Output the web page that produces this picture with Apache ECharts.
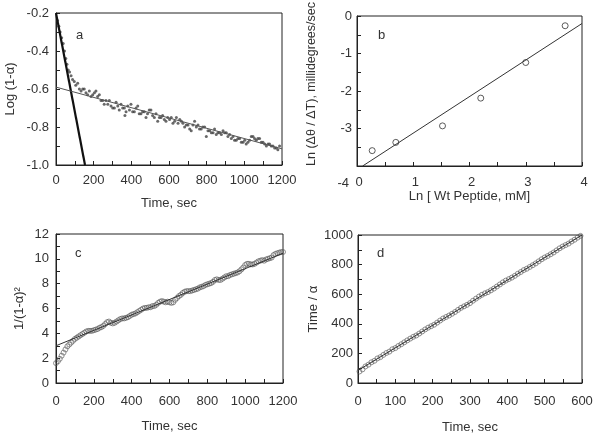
<!DOCTYPE html>
<html>
<head>
<meta charset="utf-8">
<script src="https://cdn.jsdelivr.net/npm/echarts@6/dist/echarts.min.js"></script>
<style>
html,body{margin:0;padding:0;background:#fff;}
#chart{width:600px;height:439px;}
</style>
</head>
<body>
<div id="chart"></div>
<script>
// ---- Panel a: Log(1-alpha) vs time ----
var aPoints = [[8,-0.24],[15,-0.27],[22,-0.3],[30,-0.33],[38,-0.36],[45,-0.4],[52,-0.44],[58,-0.47],[65,-0.5],[72,-0.51],[80,-0.53],[88,-0.55],[97,-0.56],[105,-0.58],[115,-0.57],[124,-0.6],[133,-0.61],[142,-0.6],[150,-0.6],[159,-0.62],[168,-0.63],[177,-0.61],[186,-0.64],[195,-0.63],[204,-0.62],[212,-0.61],[221,-0.64],[230,-0.63],[239,-0.66],[248,-0.66],[256,-0.68],[265,-0.66],[275,-0.68],[283,-0.66],[292,-0.69],[301,-0.7],[310,-0.7],[319,-0.67],[328,-0.69],[336,-0.71],[345,-0.68],[354,-0.7],[363,-0.7],[366,-0.74],[372,-0.72],[381,-0.69],[390,-0.71],[398,-0.68],[407,-0.72],[416,-0.72],[425,-0.7],[434,-0.69],[442,-0.73],[451,-0.73],[460,-0.72],[469,-0.72],[478,-0.75],[486,-0.73],[495,-0.71],[504,-0.71],[513,-0.74],[522,-0.75],[531,-0.73],[540,-0.77],[549,-0.75],[558,-0.75],[566,-0.74],[575,-0.76],[584,-0.77],[593,-0.75],[603,-0.76],[612,-0.75],[621,-0.78],[630,-0.77],[639,-0.75],[648,-0.78],[657,-0.76],[666,-0.77],[674,-0.78],[683,-0.8],[692,-0.79],[701,-0.79],[710,-0.81],[718,-0.82],[727,-0.79],[736,-0.77],[745,-0.8],[754,-0.79],[762,-0.81],[771,-0.81],[780,-0.8],[789,-0.8],[798,-0.85],[807,-0.82],[816,-0.82],[825,-0.83],[834,-0.83],[842,-0.81],[851,-0.84],[860,-0.83],[869,-0.83],[878,-0.84],[887,-0.82],[896,-0.83],[904,-0.83],[913,-0.85],[922,-0.84],[931,-0.86],[940,-0.85],[948,-0.87],[957,-0.87],[966,-0.86],[975,-0.86],[984,-0.88],[993,-0.88],[1002,-0.87],[1010,-0.89],[1019,-0.88],[1028,-0.87],[1037,-0.85],[1046,-0.85],[1054,-0.86],[1063,-0.87],[1072,-0.86],[1081,-0.86],[1090,-0.88],[1099,-0.88],[1108,-0.89],[1117,-0.9],[1126,-0.89],[1134,-0.89],[1143,-0.9],[1152,-0.9],[1161,-0.91],[1170,-0.91],[1178,-0.92],[1187,-0.9]];
var aFastLine = [[0,-0.2],[154,-1.0]];
var aSlowLine = [[0,-0.59],[1200,-0.915]];

// ---- Panel b: Ln rate vs Ln concentration ----
var bX = [0.27, 0.69, 1.52, 2.2, 3.0, 3.7];
var bY = [-3.59, -3.37, -2.93, -2.19, -1.24, -0.26];
var bFit = [[0.1,-4.0],[4.0,-0.2]];

// ---- Panel c: 1/(1-alpha)^2 vs time ----
var cTime = [0,10,20,30,40,50,60,70,80,90,100,110,120,130,140,150,160,170,180,190,200,210,220,230,240,250,260,270,280,290,300,310,320,330,340,350,360,370,380,390,400,410,420,430,440,450,460,470,480,490,500,510,520,530,540,550,560,570,580,590,600,610,620,630,640,650,660,670,680,690,700,710,720,730,740,750,760,770,780,790,800,810,820,830,840,850,860,870,880,890,900,910,920,930,940,950,960,970,980,990,1000,1010,1020,1030,1040,1050,1060,1070,1080,1090,1100,1110,1120,1130,1140,1150,1160,1170,1180,1190,1200];
var cVal = [1.6,1.75,1.95,2.2,2.45,2.7,2.95,3.1,3.25,3.4,3.55,3.65,3.75,3.85,3.95,4.05,4.15,4.2,4.2,4.2,4.25,4.3,4.35,4.45,4.5,4.6,4.75,4.9,4.95,4.85,4.8,4.85,4.95,5.05,5.15,5.2,5.2,5.25,5.3,5.4,5.5,5.55,5.6,5.7,5.8,5.9,6.0,6.05,6.05,6.1,6.1,6.2,6.2,6.3,6.45,6.55,6.6,6.55,6.5,6.55,6.5,6.45,6.5,6.7,6.85,7.0,7.1,7.25,7.35,7.4,7.4,7.4,7.45,7.5,7.55,7.6,7.7,7.75,7.8,7.9,7.95,8.0,8.05,8.15,8.3,8.35,8.3,8.3,8.4,8.5,8.6,8.6,8.7,8.75,8.8,8.85,8.9,9.0,9.15,9.3,9.5,9.6,9.6,9.55,9.55,9.6,9.7,9.8,9.85,9.9,9.85,9.95,10.0,10.05,10.1,10.3,10.4,10.45,10.5,10.55,10.55];
var cFit = [[0,3.0],[1200,10.45]];

// ---- Panel d: time/alpha vs time ----
var dTime = [4,12,20,28,36,44,52,60,68,76,84,92,100,108,116,124,132,140,148,156,164,172,180,188,196,204,212,220,228,236,244,252,260,268,276,284,292,300,308,316,324,332,340,348,356,364,372,380,388,396,404,412,420,428,436,444,452,460,468,476,484,492,500,508,516,524,532,540,548,556,564,572,580,588,596];
var dVal = [78,92,112,124,140,150,166,175,190,203,212,228,236,250,262,275,288,300,312,321,334,348,362,374,384,394,408,422,436,446,456,468,480,494,508,518,528,540,556,570,584,596,606,614,626,638,652,666,680,692,702,712,724,738,750,763,772,784,796,808,822,836,848,858,870,882,896,910,922,932,942,956,968,982,994];
var dFit = [[0,85],[600,1000]];

// tick labels
var aXTicks = [0,200,400,600,800,1000,1200];
var aYTicks = [-1.0,-0.8,-0.6,-0.4,-0.2];

var FONT = '"Liberation Sans", Arial, Helvetica, sans-serif';
var TXT = '#333';
var AX = '#222';

function zip(xs, ys){ return xs.map(function(x,i){ return [x, ys[i]]; }); }

function axisBase(o){
  var base = {
    type:'value',
    axisLine:{show:true, onZero:false, lineStyle:{color:AX, width:1}},
    axisTick:{show:true, inside:true, length:4, lineStyle:{color:AX}},
    minorTick:{show:true, splitNumber:2, length:4, lineStyle:{color:AX}},
    splitLine:{show:false},
    minorSplitLine:{show:false},
    axisLabel:{color:TXT, fontFamily:FONT, fontSize:13, formatter:function(v){ return String(v); }},
    nameLocation:'middle',
    nameTextStyle:{color:TXT, fontFamily:FONT, fontSize:13}
  };
  for (var k in o){
    if (typeof o[k]==='object' && base[k] && !Array.isArray(o[k])) {
      base[k] = Object.assign({}, base[k], o[k]);
    } else base[k] = o[k];
  }
  return base;
}

var grids = [
  {left:56, top:13, width:226, height:152},
  {left:357, top:16, width:225, height:150},
  {left:56, top:234, width:227, height:149},
  {left:358, top:235, width:224, height:148}
].map(function(g){ return Object.assign({show:true, borderColor:AX, borderWidth:1, backgroundColor:'transparent'}, g); });

var option = {
  animation:false,
  backgroundColor:'#fff',
  textStyle:{fontFamily:FONT},
  title:[
    {text:'a', left:71, top:24, textStyle:{fontSize:13, fontWeight:'normal', color:TXT, fontFamily:FONT}},
    {text:'b', left:373, top:24, textStyle:{fontSize:13, fontWeight:'normal', color:TXT, fontFamily:FONT}},
    {text:'c', left:70, top:242, textStyle:{fontSize:13, fontWeight:'normal', color:TXT, fontFamily:FONT}},
    {text:'d', left:372, top:242, textStyle:{fontSize:13, fontWeight:'normal', color:TXT, fontFamily:FONT}}
  ],
  grid:grids,
  xAxis:[
    axisBase({gridIndex:0, min:aXTicks[0], max:aXTicks[aXTicks.length-1], interval:200, name:'Time, sec', nameGap:32,
      axisLabel:{margin:9}}),
    axisBase({gridIndex:1, min:0, max:4, interval:1, name:'Ln [ Wt Peptide, mM]', nameGap:23,
      axisLabel:{margin:10, padding:[0,0,0,4]}}),
    axisBase({gridIndex:2, min:0, max:1200, interval:200, name:'Time, sec', nameGap:37,
      axisLabel:{margin:12}}),
    axisBase({gridIndex:3, min:0, max:600, interval:100, name:'Time, sec', nameGap:38,
      axisLabel:{margin:12}})
  ],
  yAxis:[
    axisBase({gridIndex:0, min:aYTicks[0], max:aYTicks[aYTicks.length-1], interval:0.2, name:'Log (1-α)', nameGap:39,
      axisLabel:{margin:7, formatter:function(v){return v.toFixed(1);}}}),
    axisBase({gridIndex:1, min:-4, max:0, interval:1, name:'Ln (Δθ / ΔT), millidegrees/sec', nameGap:39,
      nameTextStyle:{fontSize:12.5, padding:[0,0,0,14]},
      axisLabel:{margin:5, formatter:function(v){ return v===-4 ? '{low|-4}' : String(v); },
        rich:{low:{padding:[34,3,0,0], fontSize:13, color:TXT, fontFamily:FONT}}}}),
    axisBase({gridIndex:2, min:0, max:12, interval:2, name:'1/(1-α)²', nameGap:30,
      axisLabel:{margin:7}}),
    axisBase({gridIndex:3, min:0, max:1000, interval:200, name:'Time / α', nameGap:38,
      axisLabel:{margin:5}})
  ],
  series:[
    {type:'scatter', xAxisIndex:0, yAxisIndex:0, data:aPoints, symbol:'circle', symbolSize:3,
      itemStyle:{color:'#444'}},
    {type:'line', xAxisIndex:0, yAxisIndex:0, data:aFastLine, symbol:'none',
      lineStyle:{color:'#111', width:2.2}},
    {type:'line', xAxisIndex:0, yAxisIndex:0, data:aSlowLine, symbol:'none',
      lineStyle:{color:'#555', width:1}},
    {type:'scatter', xAxisIndex:1, yAxisIndex:1, data:zip(bX,bY), symbol:'circle', symbolSize:6,
      itemStyle:{color:'rgba(0,0,0,0)', borderColor:'#333', borderWidth:1}},
    {type:'line', xAxisIndex:1, yAxisIndex:1, data:bFit, symbol:'none',
      lineStyle:{color:'#333', width:1}},
    {type:'scatter', xAxisIndex:2, yAxisIndex:2, data:zip(cTime,cVal), symbol:'circle', symbolSize:5,
      itemStyle:{color:'rgba(0,0,0,0)', borderColor:'#555', borderWidth:0.8}},
    {type:'line', xAxisIndex:2, yAxisIndex:2, data:cFit, symbol:'none',
      lineStyle:{color:'#333', width:1}},
    {type:'scatter', xAxisIndex:3, yAxisIndex:3, data:zip(dTime,dVal), symbol:'circle', symbolSize:5,
      itemStyle:{color:'rgba(0,0,0,0)', borderColor:'#555', borderWidth:0.8}},
    {type:'line', xAxisIndex:3, yAxisIndex:3, data:dFit, symbol:'none',
      lineStyle:{color:'#333', width:1}}
  ]
};

var chart = echarts.init(document.getElementById('chart'), null, {renderer:'canvas'});
chart.setOption(option);
</script>
</body>
</html>
